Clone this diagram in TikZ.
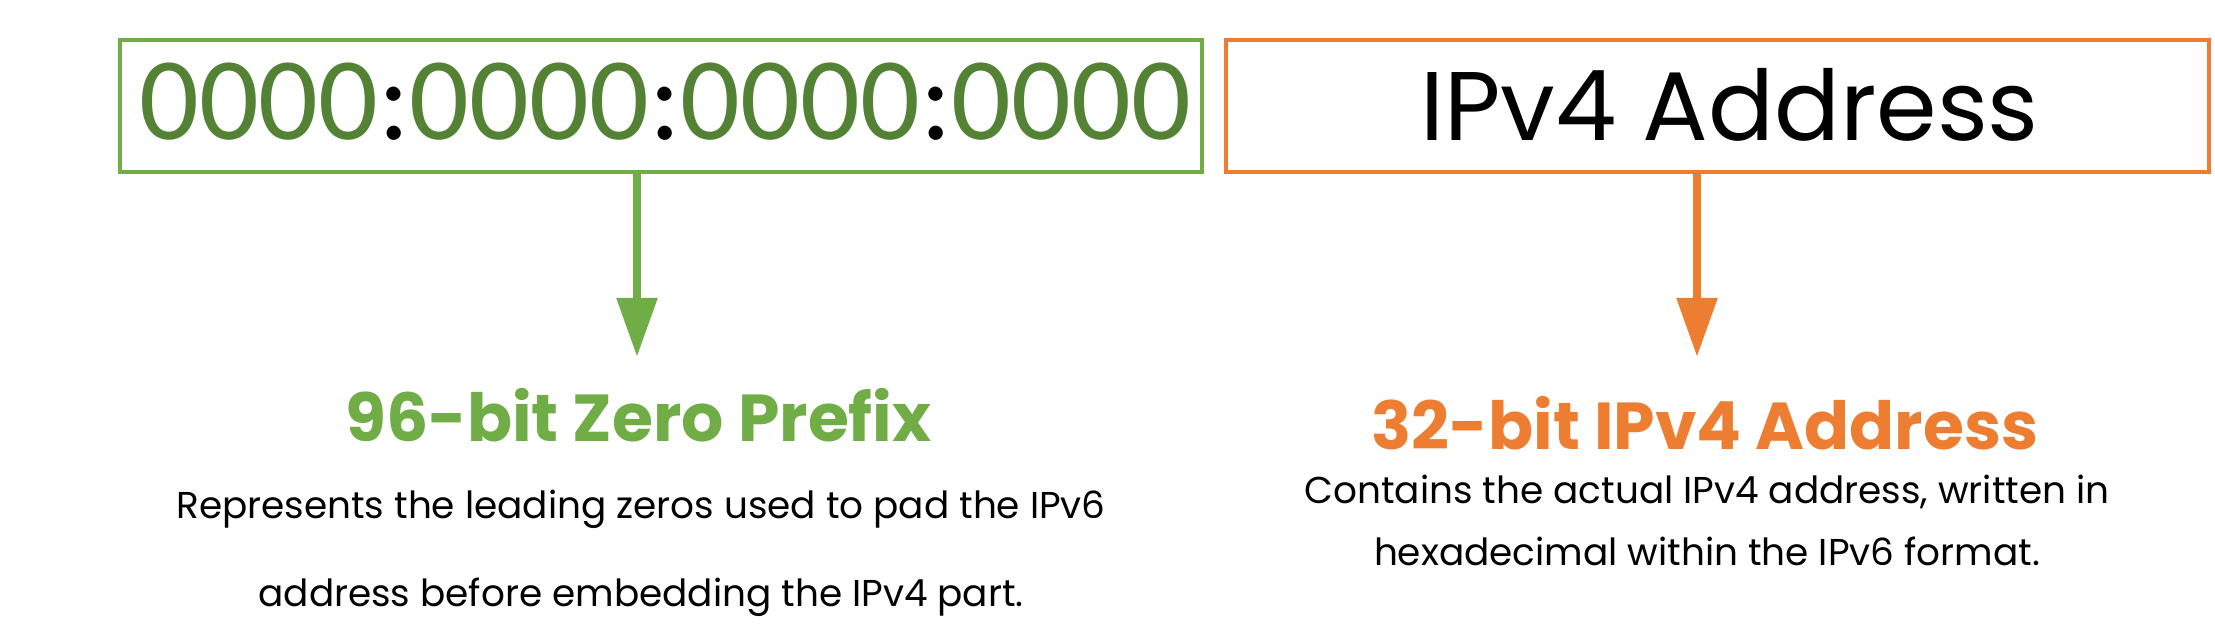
\documentclass[tikz,border=0pt]{standalone}
\usepackage{fontspec}
\setmainfont{Poppins}
\newfontfamily\zerofont{Carlito}
\definecolor{prefgreen}{RGB}{112, 173, 71}
\definecolor{zerogreen}{RGB}{84, 130, 53}
\definecolor{addrorange}{RGB}{237, 125, 49}
\usetikzlibrary{arrows.meta, positioning, calc}

\tikzset{
  fieldbox/.style={draw=#1, line width=2pt, minimum width=541.25pt, minimum height=65.85pt, inner sep=0pt, outer sep=0pt},
  downarrow/.style={draw=#1, line width=4.35pt, -{Triangle[length=29.5pt, width=19.5pt]}},
  parttitle/.style={anchor=base, text=#1, inner sep=0pt, font=\fontsize{33.2}{38}\selectfont\bfseries},
  partdesc/.style={anchor=base, align=center, inner sep=0pt}
}

\begin{document}
\begin{tikzpicture}[x=0.5pt, y=-0.5pt]
  \useasboundingbox (0,0) rectangle (2215,640);

  % Zero prefix
  \node[fieldbox=prefgreen] (zbox) at (660.75,106.15) {};
  \node[anchor=base, inner sep=0pt, font=\zerofont\fontsize{59}{60}\selectfont] (ztext) at (665,140)
    {\textcolor{zerogreen}{0000}:\textcolor{zerogreen}{0000}:\textcolor{zerogreen}{0000}:\textcolor{zerogreen}{0000}};

  % IPv4 part
  \node[fieldbox=addrorange, minimum width=491.35pt] (abox) at (1717.35,106.15) {};
  \node[anchor=base, inner sep=0pt, font=\fontsize{48.75}{50}\selectfont] (atext) at (1729.5,140.7) {IPv4 Address};

  % Arrows
  \coordinate (ztip) at (637,357);
  \coordinate (atip) at (1697,357);
  \draw[downarrow=prefgreen] (ztip |- zbox.south) -- (ztip);
  \draw[downarrow=addrorange] (atip |- abox.south) -- (atip);

  % Labels
  \node[parttitle=prefgreen] (ztitle) at (638.5,441.7) {96-bit Zero Prefix};
  \node[parttitle=addrorange] (atitle) at (1705,450) {32-bit IPv4 Address};

  % base = last line
  \node[partdesc, font=\fontsize{18.7}{44.2}\selectfont] (zdesc) at (641,606.7)
    {Represents the leading zeros used to pad the IPv6\\address before embedding the IPv4 part.};
  \node[partdesc, font=\fontsize{18.7}{30.85}\selectfont] (adesc) at (1707,565)
    {Contains the actual IPv4 address, written in\\hexadecimal within the IPv6 format.};
\end{tikzpicture}
\end{document}
